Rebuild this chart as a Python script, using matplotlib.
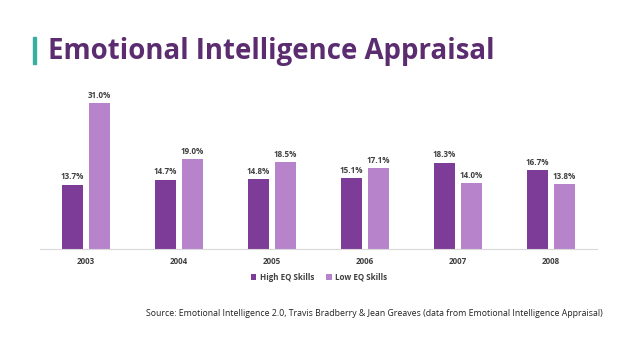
import numpy as np
import matplotlib.pyplot as plt
from matplotlib.patches import Rectangle

# Datos
years = ['2003', '2004', '2005', '2006', '2007', '2008']
high_eq = [13.7, 14.7, 14.8, 15.1, 18.3, 16.7]
low_eq = [31.0, 19.0, 18.5, 17.1, 14.0, 13.8]

dark = '#7D3C98'
light = '#B784CC'
txt = '#404040'
fnt = 'Open Sans'

fig = plt.figure(figsize=(6.38, 3.59), dpi=100)
ax = fig.add_axes([0.062, 0.306, 0.8745, 0.46])

x = np.arange(len(years))
w = 0.226
b1 = ax.bar(x - 0.145, high_eq, w, color=dark, label='High EQ Skills')
b2 = ax.bar(x + 0.145, low_eq, w, color=light, label='Low EQ Skills')

for bars, vals in ((b1, high_eq), (b2, low_eq)):
    for r, v in zip(bars, vals):
        ax.text(r.get_x() + r.get_width() / 2, v + 0.7, f'{v:.1f}%', ha='center', va='bottom',
                fontsize=5.8, fontweight='bold', color=txt, family=fnt)

ax.set_xlim(-0.5, len(years) - 0.5)
ax.set_ylim(0, 35)
ax.set_xticks(x)
ax.set_xticklabels(years, fontsize=5.8, fontweight='bold', color=txt, family=fnt)
ax.tick_params(axis='x', length=0, pad=6)
ax.set_yticks([])
for s in ['top', 'left', 'right']:
    ax.spines[s].set_visible(False)
ax.spines['bottom'].set_color('#D9D9D9')

leg = fig.legend(loc='center', bbox_to_anchor=(0.5, 0.228), ncol=2, frameon=False,
                 prop={'family': fnt, 'size': 5.8, 'weight': 'bold'},
                 handlelength=0.7, handleheight=0.7, handletextpad=0.4, columnspacing=1.5)
for t in leg.get_texts():
    t.set_color(txt)

# Titulo y barra lateral
fig.patches.append(Rectangle((33 / 638, 1 - 64 / 359), 3 / 638, 27 / 359, transform=fig.transFigure,
                             color='#3AAFA0'))
fig.text(48 / 638, 1 - 52 / 359, 'Emotional Intelligence Appraisal', fontsize=19.9, fontweight='bold',
         color='#5B2C6F', family=fnt, va='center', ha='left')

fig.text(603 / 638, 1 - 313 / 359,
         'Source: Emotional Intelligence 2.0, Travis Bradberry & Jean Greaves (data from Emotional Intelligence Appraisal)',
         fontsize=6.3, color='#222222', family=fnt, ha='right', va='center')

fig.savefig('out.png', dpi=100)
